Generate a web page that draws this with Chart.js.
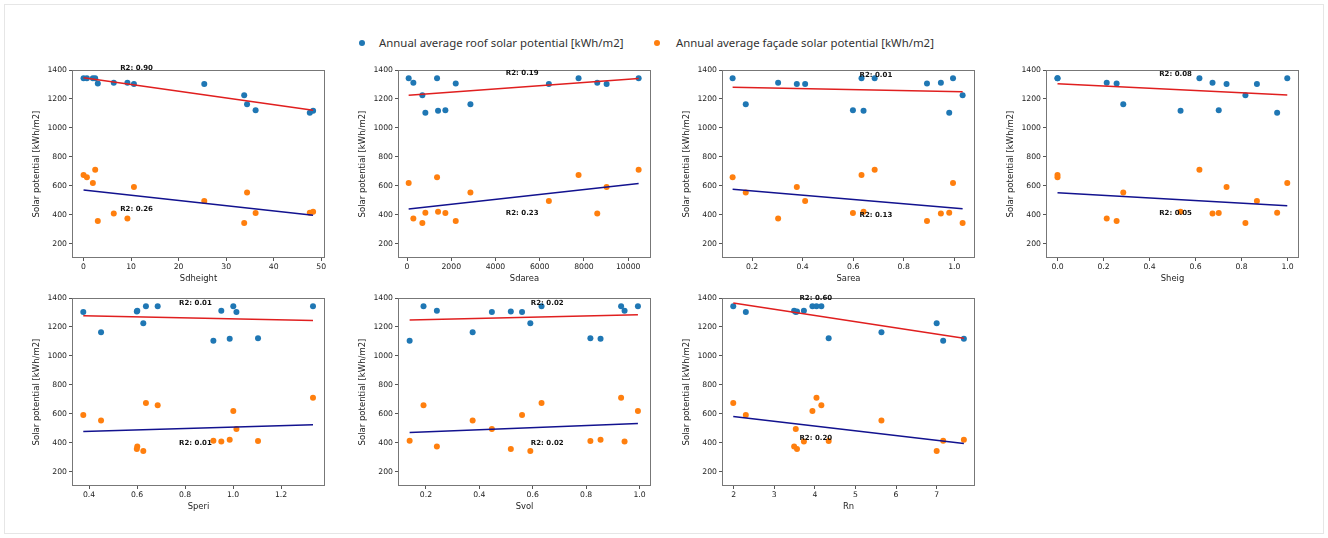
<!DOCTYPE html>
<html><head><meta charset="utf-8">
<script src="https://cdn.jsdelivr.net/npm/chart.js@4.4.1/dist/chart.umd.min.js"></script>
<style>
html,body{margin:0;padding:0;background:#fff;}
body{width:1328px;height:538px;position:relative;overflow:hidden;}
canvas{position:absolute;}
#frame{position:absolute;left:4px;top:4px;width:1318px;height:528px;border:1px solid #e6e6e6;}
.li{position:absolute;white-space:nowrap;font-family:"Noto Sans";font-size:11.4px;line-height:14px;color:#333;}
.dot{position:absolute;width:6px;height:6px;border-radius:50%;}
</style></head><body>
<div id="frame"></div>
<div class="dot" style="left:359px;top:40px;background:#1f77b4"></div>
<div class="li" style="left:379px;top:36px">Annual average roof solar potential [kWh/m2]</div>
<div class="dot" style="left:654px;top:40px;background:#ff7f0e"></div>
<div class="li" style="left:676px;top:36px">Annual average façade solar potential [kWh/m2]</div>
<script>
// ---- data (14 buildings, same order in every panel) ----
const roof   = [1343,1343,1343,1343,1306,1311,1311,1304,1304,1226,1164,1121,1105,1118];
const facade = [674,658,619,711,356,408,374,591,495,342,553,411,413,420];

const sdheight = [0,0.7,1.96,2.45,3.0,6.36,9.23,10.6,25.4,33.8,34.4,36.2,47.6,48.3];
const sdarea   = [7756,1358,75,10472,2203,8601,287,9024,6413,694,2867,1735,830,1403];
const sarea    = [0.633,0.123,0.995,0.685,0.892,0.947,0.303,0.377,0.41,1.033,0.175,0.599,0.980,0.641];
const sheig    = [0,0,0.999,0.617,0.257,0.674,0.214,0.735,0.867,0.817,0.286,0.701,0.955,0.535];
const speri    = [0.637,0.686,1.001,1.333,0.599,0.951,0.601,0.376,1.014,0.626,0.45,1.104,0.918,0.986];
const svol     = [0.633,0.191,0.994,0.931,0.518,0.944,0.241,0.560,0.447,0.591,0.375,0.816,0.139,0.854];
const rn       = [1.99,4.16,3.94,4.04,3.56,3.73,3.49,2.30,3.53,7.00,5.64,4.34,7.16,7.67];

const featureNames = ['Sdheight','Sdarea','Sarea','Sheig','Speri','Svol','Rn'];
const featureX = [sdheight, sdarea, sarea, sheig, speri, svol, rn];

// regression line end points [[x0,y0],[x1,y1]]
const roofFits = [
  [[0,1347],[48.3,1121]],
  [[75,1226],[10472,1342]],
  [[0.123,1280],[1.033,1249]],
  [[0,1305],[0.999,1227]],
  [[0.376,1278],[1.333,1245]],
  [[0.139,1248],[0.994,1285]],
  [[1.99,1365],[7.67,1121]]
];
const facadeFits = [
  [[0,571],[48.3,395]],
  [[75,438],[10472,615]],
  [[0.123,576],[1.033,440]],
  [[0,551],[0.999,461]],
  [[0.376,477],[1.333,523]],
  [[0.139,470],[0.994,532]],
  [[1.99,581],[7.67,394]]
];

// R2 annotations
const r2Roof   = ['0.90','0.19','0.01','0.08','0.01','0.02','0.60'];
const r2Facade = ['0.26','0.23','0.13','0.05','0.01','0.02','0.20'];
const r2X       = [7.7, 4467, 0.625, 0.442, 0.775, 0.593, 3.62];
const r2RoofY   = [1411, 1377, 1365, 1372, 1365, 1365, 1398];
const r2FacadeY = [438, 411, 398, 410, 398, 398, 428];

// axes
const xLimits = [[-2.43,50.8],[-407,11031],[0.081,1.082],[-0.05,1.05],[0.329,1.383],[0.0954,1.043],[1.713,7.944]];
const xTickLabels = [
  ['0','10','20','30','40','50'],
  ['0','2000','4000','6000','8000','10000'],
  ['0.2','0.4','0.6','0.8','1.0'],
  ['0.0','0.2','0.4','0.6','0.8','1.0'],
  ['0.4','0.6','0.8','1.0','1.2'],
  ['0.2','0.4','0.6','0.8','1.0'],
  ['2','3','4','5','6','7']
];
const yTickLabels = ['200','400','600','800','1000','1200','1400'];
const yLimits = [100,1400];
const yTitle = 'Solar potential [kWh/m2]';

// ---- layout ----
const colLeft = [72, 398, 722, 1046];
const rowTop = [70, 298];
const plotW = 253, plotH = 188;
const padL = 60, padT = 14, padR = 14, padB = 42;
const FONT = '"DejaVu Sans"';

const panelPlugin = {
  id: 'panel',
  afterDraw(chart) {
    const {ctx, chartArea: a} = chart;
    const i = chart.options.panelIndex;
    ctx.save();
    ctx.strokeStyle = '#777';
    ctx.lineWidth = 1;
    ctx.strokeRect(a.left + 0.5, a.top + 0.5, a.right - a.left - 1, a.bottom - a.top - 1);
    const xs = chart.scales.x, ys = chart.scales.y;
    ctx.fillStyle = '#111';
    ctx.font = 'bold 7px ' + FONT;
    ctx.textAlign = 'left';
    ctx.textBaseline = 'middle';
    ctx.fillText('R2: ' + r2Roof[i], xs.getPixelForValue(r2X[i]), ys.getPixelForValue(r2RoofY[i]));
    ctx.fillText('R2: ' + r2Facade[i], xs.getPixelForValue(r2X[i]), ys.getPixelForValue(r2FacadeY[i]));
    ctx.restore();
  }
};

featureNames.forEach((name, i) => {
  const col = i % 4, row = Math.floor(i / 4);
  const cv = document.createElement('canvas');
  const w = plotW + padL + padR, h = plotH + padT + padB;
  cv.width = w; cv.height = h;
  cv.style.width = w + 'px'; cv.style.height = h + 'px';
  cv.style.left = (colLeft[col] - padL) + 'px';
  cv.style.top = (rowTop[row] - padT) + 'px';
  document.body.appendChild(cv);

  const xs = featureX[i];
  const xt = xTickLabels[i];
  const pts = (ys) => xs.map((x, k) => ({x: x, y: ys[k]}));
  const fit = (f) => f.map(p => ({x: p[0], y: p[1]}));

  new Chart(cv, {
    type: 'scatter',
    data: {
      datasets: [
        {type: 'line', data: fit(roofFits[i]), borderColor: '#e01f1f', borderWidth: 1.5, pointRadius: 0, fill: false, order: 0},
        {type: 'line', data: fit(facadeFits[i]), borderColor: '#12128f', borderWidth: 1.5, pointRadius: 0, fill: false, order: 0},
        {label: 'roof', data: pts(roof), backgroundColor: '#1f77b4', borderWidth: 0, pointRadius: 3, order: 1},
        {label: 'facade', data: pts(facade), backgroundColor: '#ff7f0e', borderWidth: 0, pointRadius: 3, order: 1}
      ]
    },
    options: {
      panelIndex: i,
      responsive: false, animation: false, devicePixelRatio: 1,
      layout: {padding: {top: padT, right: padR, left: 0, bottom: 0}},
      plugins: {legend: {display: false}, tooltip: {enabled: false}},
      scales: {
        x: {
          type: 'linear', min: xLimits[i][0], max: xLimits[i][1],
          afterBuildTicks: s => { s.ticks = xt.map(l => ({value: parseFloat(l)})); },
          afterFit: s => { s.height = padB; },
          ticks: {
            autoSkip: false, maxRotation: 0, padding: 1, color: '#222',
            font: {size: 7.7, family: FONT},
            callback: (v) => xt.find(l => Math.abs(parseFloat(l) - v) < 1e-9)
          },
          grid: {drawOnChartArea: false, drawTicks: true, tickLength: 3, color: '#555'},
          border: {display: false},
          title: {display: true, text: name, color: '#222', font: {size: 8.4, family: FONT}, padding: {top: 0, bottom: 16}}
        },
        y: {
          type: 'linear', min: yLimits[0], max: yLimits[1],
          afterBuildTicks: s => { s.ticks = yTickLabels.map(l => ({value: parseFloat(l)})); },
          afterFit: s => { s.width = padL; },
          ticks: {
            autoSkip: false, padding: 2, color: '#222',
            font: {size: 7.7, family: FONT},
            callback: (v) => yTickLabels.find(l => parseFloat(l) === v)
          },
          grid: {drawOnChartArea: false, drawTicks: true, tickLength: 3, color: '#555'},
          border: {display: false},
          title: {display: true, text: yTitle, color: '#222', font: {size: 8.5, family: FONT}, padding: {top: 20, bottom: 0}}
        }
      }
    },
    plugins: [panelPlugin]
  });
});
</script>
</body></html>
